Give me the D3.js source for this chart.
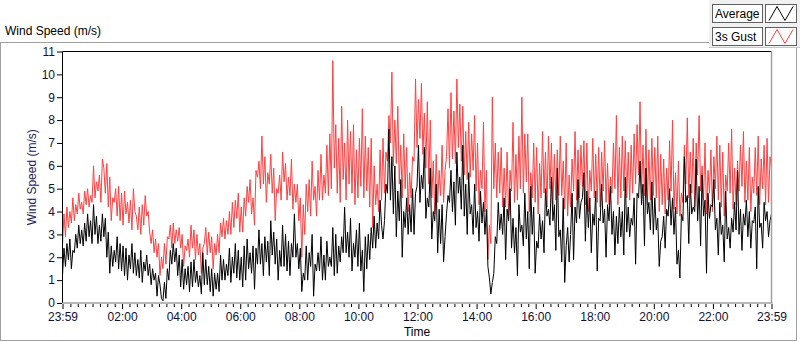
<!DOCTYPE html>
<html>
<head>
<meta charset="utf-8">
<script src="https://cdn.jsdelivr.net/npm/d3@7"></script>
<style>
  body { margin: 0; background: #fff; }
  text { font-family: "Liberation Sans", Arial, sans-serif; }
</style>
</head>
<body>
<div id="chart"></div>
<script>
// samples evenly spread over 23:59 -> 23:59, one row per hour (20 samples = 3 min apart)
var avgSpeed = [
  1.2,2.4,1.6,2.6,1.9,2.8,1.5,2.3,2.2,3.0,2.4,3.4,2.6,3.2,2.5,3.5,2.7,3.9,2.9,3.6,
  2.6,4.3,3.0,3.8,2.6,3.4,2.7,3.9,2.9,3.7,2.0,3.1,1.3,2.5,1.6,2.3,1.8,2.9,1.5,2.6,
  1.4,2.5,1.2,2.4,1.0,2.1,1.5,2.6,1.3,2.2,1.2,1.9,1.1,2.3,0.9,1.8,1.4,2.1,1.2,1.7,
  0.8,1.5,1.0,1.3,0.3,1.2,0.8,0.2,0.1,0.9,0.2,1.5,1.0,2.3,1.7,2.6,1.8,2.4,1.2,2.1,
  0.7,1.9,0.6,1.5,0.8,1.6,0.5,1.8,0.7,1.9,0.9,1.4,0.7,1.2,0.4,2.2,0.8,1.9,0.8,1.6,
  0.5,1.5,0.3,1.3,0.6,1.3,0.5,2.1,1.0,1.9,1.0,1.7,1.2,2.4,0.9,2.0,1.3,2.6,1.1,2.3,
  1.0,2.0,0.7,2.5,1.0,2.8,1.5,2.2,1.3,2.5,0.6,2.4,1.7,3.2,1.7,2.6,1.2,2.9,1.8,2.7,
  1.2,3.6,2.1,3.1,1.7,2.8,1.0,2.3,1.6,3.4,1.6,3.0,1.4,2.7,1.2,2.6,2.0,3.9,2.0,2.6,
  1.5,2.4,0.5,1.3,1.0,2.5,1.0,2.2,1.6,3.0,0.3,1.7,1.4,2.2,1.4,2.9,1.0,2.1,1.0,2.7,
  1.6,2.0,1.6,3.3,1.2,3.0,1.3,2.5,1.8,2.9,2.2,4.2,2.2,3.1,2.0,3.7,1.4,2.6,2.0,3.2,
  1.6,3.5,1.4,2.3,0.5,2.9,1.5,3.0,1.9,3.3,2.4,3.8,2.4,3.5,2.8,4.5,3.4,2.8,3.6,5.2,
  4.8,7.6,4.5,6.4,3.9,6.0,2.9,4.9,3.6,5.4,2.0,4.0,3.3,4.6,3.0,4.3,3.1,5.0,3.0,4.8,
  5.1,6.9,4.4,5.6,5.0,6.8,3.7,4.6,4.2,5.9,2.8,4.0,3.6,5.2,2.2,4.1,2.6,4.3,1.8,2.9,
  3.9,4.7,4.4,5.8,4.0,5.3,3.4,6.6,4.8,5.5,4.1,6.9,3.8,5.2,3.0,5.7,3.9,4.3,3.0,5.2,
  3.3,4.0,2.7,4.9,3.5,4.4,3.0,4.1,1.6,1.1,0.4,0.9,1.3,2.9,2.6,4.4,3.2,3.9,3.0,4.6,
  1.9,4.1,3.6,5.0,2.4,3.7,2.2,3.3,1.2,4.3,3.1,3.4,2.5,4.8,2.8,4.0,1.5,5.1,3.0,4.2,
  1.3,2.7,2.4,3.9,2.8,3.6,2.2,5.0,3.8,4.1,3.4,5.5,3.6,4.3,2.3,5.9,2.9,3.2,1.8,4.6,
  0.9,2.5,3.3,1.8,3.0,4.8,1.9,4.2,3.5,5.4,3.7,4.4,4.6,5.7,2.7,4.9,3.3,4.6,2.2,3.9,
  3.4,4.9,1.4,3.7,3.6,5.2,3.5,4.1,2.0,4.3,3.6,5.1,3.0,4.0,2.1,3.8,2.6,4.2,2.9,4.0,
  2.1,5.5,3.1,4.2,2.9,3.7,3.4,4.6,1.7,4.8,4.6,6.2,4.3,5.2,2.5,5.9,3.9,4.4,3.2,5.3,
  3.0,4.6,3.2,3.7,1.6,2.7,2.9,3.8,2.4,4.1,3.8,5.0,3.4,4.6,3.0,4.2,1.7,2.3,1.1,3.9,
  3.6,6.4,4.4,4.7,2.6,5.2,3.9,4.2,4.0,6.3,3.6,5.1,2.5,5.6,3.8,4.5,1.3,4.8,3.7,4.3,
  4.2,5.4,3.2,3.7,2.1,4.4,3.0,3.4,1.8,4.9,2.8,3.3,2.4,3.7,3.1,4.4,3.2,5.8,3.0,4.1,
  2.3,3.9,3.4,4.5,2.9,4.0,2.4,3.6,3.5,4.2,1.5,5.1,3.3,3.5,2.4,4.4,3.6,4.0,2.9,3.6,
  3.9
];

var gustSpeed = [
  2.5,3.9,2.9,4.2,3.3,4.0,3.5,4.6,3.6,4.3,3.9,4.8,4.1,4.4,3.9,4.9,4.3,5.0,4.2,4.7,
  4.4,6.0,4.6,5.3,4.9,5.6,4.4,6.3,5.9,4.8,6.1,4.2,5.5,3.6,4.6,4.4,5.0,3.8,5.1,3.6,
  4.8,3.4,4.9,3.9,4.4,3.5,4.5,3.2,5.0,4.0,3.8,3.2,4.2,3.0,4.3,3.4,4.7,3.8,4.0,3.1,
  2.6,3.2,2.2,2.8,2.0,2.6,1.2,2.0,1.5,2.6,1.7,2.9,2.8,3.4,2.4,3.5,2.6,3.2,2.7,3.3,
  2.4,3.0,1.6,2.5,2.3,2.8,2.0,3.4,2.4,3.2,1.9,3.0,2.1,2.6,1.3,2.4,2.6,3.3,2.1,3.1,
  2.2,2.9,1.5,2.6,2.1,3.0,2.2,3.5,2.9,3.7,2.8,3.6,3.0,4.0,3.0,4.4,3.3,4.5,3.7,4.8,
  3.1,4.2,3.1,4.6,3.8,5.1,4.4,5.4,3.9,4.6,3.4,5.8,5.5,6.2,5.0,7.3,5.2,6.4,4.4,5.7,
  5.2,6.5,4.8,5.9,3.6,5.0,4.8,5.6,4.5,6.6,5.3,6.1,4.5,5.5,4.7,6.3,4.1,5.2,4.4,5.2,
  3.6,4.6,2.0,4.3,3.0,5.2,4.0,5.4,3.8,6.2,4.5,5.1,3.8,5.8,4.5,6.5,4.5,5.6,4.8,6.9,
  4.7,7.4,5.0,10.6,5.9,7.8,4.8,7.2,4.4,8.6,5.4,7.0,4.5,8.0,5.2,7.5,4.8,7.8,4.3,6.7,
  4.6,7.2,5.1,8.5,4.6,7.3,4.9,6.8,4.2,7.2,3.3,6.0,4.3,5.2,4.0,6.7,4.5,7.2,4.8,6.6,
  6.2,8.2,7.0,10.1,6.0,8.0,6.1,8.6,5.2,6.9,4.6,7.4,5.0,6.8,4.0,5.7,4.6,6.4,6.2,9.8,
  6.8,8.9,7.2,9.6,6.5,8.3,5.9,8.8,5.2,8.0,4.6,6.2,3.9,6.5,4.4,5.8,4.7,6.9,4.4,5.8,
  6.4,8.5,5.9,9.2,6.3,8.4,6.1,9.8,6.8,8.7,6.2,8.6,5.6,7.5,5.4,7.9,5.5,7.4,5.8,8.2,
  4.9,7.0,4.3,5.8,5.0,7.9,4.0,5.8,1.9,3.4,2.6,9.0,5.0,7.0,4.6,6.6,4.8,6.8,4.2,5.9,
  4.2,6.6,3.8,5.8,4.9,7.9,4.4,6.5,4.5,7.3,5.0,9.0,4.8,7.4,5.3,7.4,4.0,5.7,4.6,7.0,
  4.4,6.8,3.9,6.1,4.6,7.5,4.8,6.6,4.2,7.3,5.0,7.0,4.3,6.5,4.5,6.7,4.7,7.3,4.7,6.2,
  4.1,7.0,3.8,5.6,4.2,6.3,4.9,7.5,4.5,6.7,4.6,6.9,5.1,7.1,4.3,7.0,4.0,5.8,4.9,7.2,
  4.6,6.5,4.4,6.8,4.2,6.6,4.9,7.1,4.4,6.1,4.3,5.5,4.8,7.0,5.0,8.2,4.3,6.8,4.6,7.3,
  4.9,7.1,4.6,6.6,4.5,6.9,4.8,7.4,5.2,7.8,5.6,8.8,4.8,6.9,4.7,7.6,4.3,6.7,4.5,7.2,
  4.7,6.8,4.6,7.3,4.0,6.5,4.3,6.3,3.9,5.9,4.5,7.1,4.9,8.0,4.1,5.7,3.9,6.2,3.8,4.8,
  4.4,6.9,5.2,8.1,4.6,6.6,4.8,7.2,4.2,7.0,5.6,8.2,4.9,6.0,4.5,7.0,3.9,5.8,4.8,6.7,
  4.0,6.4,5.0,7.3,4.5,6.9,4.2,6.6,3.8,5.6,4.9,7.0,4.8,7.6,4.1,5.9,4.3,6.2,4.9,6.9,
  5.1,7.5,4.4,6.2,4.5,6.8,4.0,5.5,4.8,6.8,4.7,7.3,4.3,6.3,5.0,6.9,4.3,7.2,4.4,6.4,
  5.9
];

var yTicks = [0,1,2,3,4,5,6,7,8,9,10,11];
var xTickLabels = ["23:59","02:00","04:00","06:00","08:00","10:00","12:00","14:00","16:00","18:00","20:00","22:00","23:59"];
var seriesNames = ["Average", "3s Gust"];
var seriesColors = ["#000000", "#ff4040"];

var W = 800, H = 342;
var plot = {left: 62.5, right: 771.5, top: 51.5, bottom: 303};

var svg = d3.select("#chart").append("svg")
    .attr("width", W)
    .attr("height", H);

var start = new Date(2020, 0, 1, 23, 59);
var end = d3.timeMinute.offset(start, 24 * 60);

var x = d3.scaleTime().domain([start, end]).range([plot.left, plot.right]);
var y = d3.scaleLinear().domain([0, 11]).range([plot.bottom, plot.top]);

// time of sample i in a series of n samples
function timeOf(i, n) { return new Date(+start + i * (end - start) / (n - 1)); }

var majorDates = xTickLabels.map(function(lab, i) {
    if (i == 0) return start;
    if (i == xTickLabels.length - 1) return end;
    var hh = +lab.split(":")[0];
    return new Date(2020, 0, 2, hh, 0);
});

// outer frame (grey), top right part taken by the legend
var frame = svg.append("g").attr("class", "frame");
frame.append("line").attr("x1", 0).attr("x2", 709).attr("y1", 42.5).attr("y2", 42.5).attr("stroke", "#a0a0a0");
frame.append("line").attr("x1", 0.5).attr("x2", 0.5).attr("y1", 42.5).attr("y2", 340.5).attr("stroke", "#a0a0a0");
frame.append("line").attr("x1", 0).attr("x2", 797).attr("y1", 340.5).attr("y2", 340.5).attr("stroke", "#a0a0a0");
frame.append("line").attr("x1", 796.5).attr("x2", 796.5).attr("y1", 48).attr("y2", 340.5).attr("stroke", "#a0a0a0");

svg.append("text")
    .text("Wind Speed (m/s)")
    .attr("x", 5).attr("y", 35)
    .style("font-size", "12px")
    .attr("fill", "#000");

var clip = svg.append("defs").append("clipPath").attr("id", "plotclip")
    .append("rect")
    .attr("x", plot.left).attr("y", plot.top)
    .attr("width", plot.right - plot.left).attr("height", plot.bottom - plot.top);

function lineFor(n) {
    return d3.line()
        .x(function(d, i) { return x(timeOf(i, n)); })
        .y(function(d) { return y(d); });
}

var lines = svg.append("g").attr("clip-path", "url(#plotclip)");

// gust first, average on top
[gustSpeed, avgSpeed].forEach(function(series, k) {
    lines.append("path")
        .datum(series)
        .attr("d", lineFor(series.length))
        .attr("fill", "none")
        .attr("stroke", k == 0 ? seriesColors[1] : seriesColors[0])
        .attr("stroke-width", 1);
});

// plot border: dark top/left, grey bottom/right
svg.append("line").attr("x1", plot.left).attr("x2", plot.right).attr("y1", plot.top).attr("y2", plot.top).attr("stroke", "#000");
svg.append("line").attr("x1", plot.left).attr("x2", plot.left).attr("y1", plot.top).attr("y2", plot.bottom).attr("stroke", "#000");
svg.append("line").attr("x1", plot.left).attr("x2", plot.right + 1).attr("y1", plot.bottom).attr("y2", plot.bottom).attr("stroke", "#a0a0a0").attr("stroke-width", 1.5);
svg.append("line").attr("x1", plot.right).attr("x2", plot.right).attr("y1", plot.top).attr("y2", plot.bottom).attr("stroke", "#a0a0a0").attr("stroke-width", 1.5);

// y axis
var yAxis = svg.append("g")
    .attr("transform", "translate(" + (plot.left - 0.5) + ",0)")
    .call(d3.axisLeft(y).tickValues(yTicks).tickSize(5).tickPadding(2));
yAxis.select(".domain").remove();
yAxis.selectAll("text").style("font-size", "12px").attr("fill", "#10103a").attr("font-family", null);
yAxis.selectAll("line").attr("stroke", "#000");

svg.append("text")
    .text("Wind Speed (m/s)")
    .attr("transform", "translate(36," + ((plot.top + plot.bottom) / 2) + ") rotate(-90)")
    .attr("text-anchor", "middle")
    .style("font-size", "12px")
    .attr("fill", "#1c1c5c");

// x axis, minor ticks every 15 min
var minorDates = d3.timeMinute.every(15).range(start, end).filter(function(d) {
    return majorDates.every(function(m) { return Math.abs(m - d) > 5 * 60000; });
});
var xMinor = svg.append("g")
    .attr("transform", "translate(0," + (plot.bottom + 1) + ")")
    .call(d3.axisBottom(x).tickValues(minorDates).tickSize(3).tickFormat(""));
xMinor.select(".domain").remove();

var xAxis = svg.append("g")
    .attr("transform", "translate(0," + (plot.bottom + 1) + ")")
    .call(d3.axisBottom(x).tickValues(majorDates).tickSize(5).tickPadding(3)
        .tickFormat(function(d, i) { return xTickLabels[i]; }));
xAxis.select(".domain").remove();
xAxis.selectAll("text").style("font-size", "12px").attr("fill", "#10103a").attr("font-family", null);

svg.append("text")
    .text("Time")
    .attr("x", (plot.left + plot.right) / 2).attr("y", 336)
    .attr("text-anchor", "middle")
    .style("font-size", "12px")
    .attr("fill", "#000");

// legend
var legend = svg.append("g").attr("class", "legend");
legend.append("rect").attr("x", 709).attr("y", 0).attr("width", 91).attr("height", 48).attr("fill", "#f0f0f0");
legend.append("line").attr("x1", 709).attr("x2", 800).attr("y1", 47.5).attr("y2", 47.5).attr("stroke", "#c8c8c8");

var iconX = d3.scaleLinear().domain([0, 3]).range([769, 793]);
var iconY = d3.scaleLinear().domain([0, 1]).range([0, 14]);
var iconShape = [1, 0, 1, 0];

seriesNames.forEach(function(name, k) {
    var top = 4 + k * 23;
    legend.append("rect").attr("x", 712.5).attr("y", top + 0.5).attr("width", 50).attr("height", 18)
        .attr("fill", "#fff").attr("stroke", "#606060");
    legend.append("text").text(name)
        .attr("x", 715).attr("y", top + 14)
        .style("font-size", "12px").attr("fill", "#000");
    legend.append("rect").attr("x", 765.5).attr("y", top + 0.5).attr("width", 31).attr("height", 18)
        .attr("fill", "#fff").attr("stroke", "#606060");
    legend.append("path")
        .datum(iconShape)
        .attr("d", d3.line().x(function(d, i) { return iconX(i); }).y(function(d) { return top + 2.5 + iconY(d); }))
        .attr("fill", "none")
        .attr("stroke", seriesColors[k]);
});
</script>
</body>
</html>
